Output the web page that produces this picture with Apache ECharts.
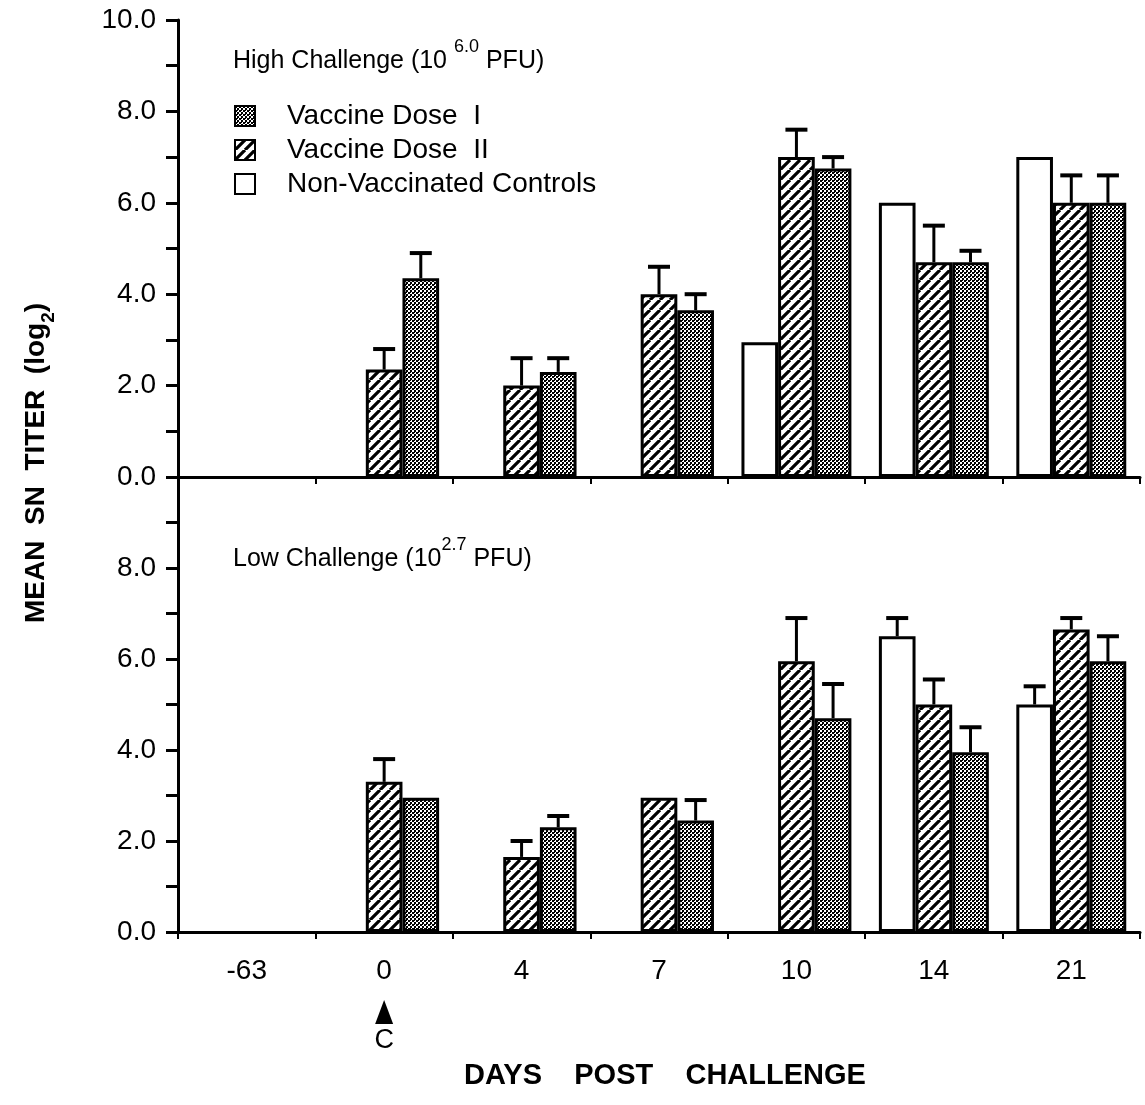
<!DOCTYPE html>
<html>
<head>
<meta charset="utf-8">
<script src="https://cdn.jsdelivr.net/npm/echarts@6/dist/echarts.min.js"></script>
<style>
  html,body{margin:0;padding:0;background:#fff;}
  #chart{width:1145px;height:1105px;}
</style>
</head>
<body>
<div id="chart"></div>
<script>
var FONT = "'Liberation Sans', Arial, Helvetica, sans-serif";

// categories
var days = ['-63', '0', '4', '7', '10', '14', '21'];
var seriesNames = ['Non-Vaccinated Controls', 'Vaccine Dose  II', 'Vaccine Dose  I'];

// high challenge (top panel)
var highCtrl = [null, null, null, null, 2.95, 6.0, 7.0];
var highDose2 = [null, 2.35, 2.0, 4.0, 7.0, 4.7, 6.0];
var highDose1 = [null, 4.35, 2.3, 3.65, 6.75, 4.7, 6.0];
var highCtrlErr = [null, null, null, null, null, null, null];
var highDose2Err = [null, 2.8, 2.6, 4.6, 7.6, 5.5, 6.6];
var highDose1Err = [null, 4.9, 2.6, 4.0, 7.0, 4.95, 6.6];

// low challenge (bottom panel)
var lowCtrl = [null, null, null, null, null, 6.5, 5.0];
var lowDose2 = [null, 3.3, 1.65, 2.95, 5.95, 5.0, 6.65];
var lowDose1 = [null, 2.95, 2.3, 2.45, 4.7, 3.95, 5.95];
var lowCtrlErr = [null, null, null, null, null, 6.9, 5.4];
var lowDose2Err = [null, 3.8, 2.0, null, 6.9, 5.55, 6.9];
var lowDose1Err = [null, null, 2.55, 2.9, 5.45, 4.5, 6.5];

// y ticks
var yMin = 0, yMax = 10, yStep = 1;

// fill patterns
function hatch(){
    var c = document.createElement('canvas');
    c.width = 10; c.height = 10;
    var ctx = c.getContext('2d');
    ctx.fillStyle = '#fff';
    ctx.fillRect(0, 0, 10, 10);
    ctx.strokeStyle = '#000';
    ctx.lineWidth = 3.2;
    ctx.beginPath();
    for (var k = -10; k <= 10; k += 10) {
        ctx.moveTo(k, 10);
        ctx.lineTo(k + 10, 0);
    }
    ctx.stroke();
    return c;
}
function dots(){
    var c = document.createElement('canvas');
    c.width = 4; c.height = 4;
    var ctx = c.getContext('2d');
    ctx.fillStyle = '#fff';
    ctx.fillRect(0, 0, 4, 4);
    ctx.fillStyle = '#000';
    ctx.fillRect(0, 0, 2, 2);
    ctx.fillRect(2, 2, 2, 2);
    ctx.fillRect(2, 0, 1, 1);
    return c;
}
var fills = ['#fff', {image: hatch(), repeat: 'repeat'}, {image: dots(), repeat: 'repeat'}];

function barSeries(k, vals, gi){
    return {
        name: seriesNames[k],
        type: 'bar',
        xAxisIndex: gi,
        yAxisIndex: gi,
        data: vals,
        barGap: '0%',
        barCategoryGap: '20%',
        itemStyle: {color: fills[k], borderColor: '#000', borderWidth: 3},
        emphasis: {disabled: true},
        z: 2
    };
}

function errSeries(k, vals, errs, gi){
    var d = [];
    for (var i = 0; i < errs.length; i++) {
        if (errs[i] != null && vals[i] != null) d.push([i, vals[i], errs[i]]);
    }
    return {
        type: 'custom',
        xAxisIndex: gi,
        yAxisIndex: gi,
        data: d,
        encode: {x: 0, y: [1, 2]},
        silent: true,
        z: 3,
        renderItem: function(params, api){
            var i = api.value(0);
            var bw = api.size([1, 0])[0] * 0.8 / 3;
            var p0 = api.coord([i, api.value(1)]);
            var p1 = api.coord([i, api.value(2)]);
            var x = p0[0] + (k - 1) * bw;
            return {type: 'group', children: [
                {type: 'line', shape: {x1: x, y1: p0[1], x2: x, y2: p1[1]}, style: {stroke: '#000', lineWidth: 3}},
                {type: 'line', shape: {x1: x - 11, y1: p1[1], x2: x + 11, y2: p1[1]}, style: {stroke: '#000', lineWidth: 4}}
            ]};
        }
    };
}

function xAx(gi, showLabel){
    return {
        type: 'category',
        gridIndex: gi,
        data: days,
        axisLine: {lineStyle: {color: '#000', width: 3}},
        axisTick: {show: true, length: 7, lineStyle: {color: '#000', width: 2}},
        axisLabel: {show: showLabel, color: '#000', fontFamily: FONT, fontSize: 28, margin: 25}
    };
}
function yAx(gi, hideTop){
    return {
        type: 'value',
        gridIndex: gi,
        min: yMin,
        max: yMax,
        interval: yStep,
        axisLine: {show: true, lineStyle: {color: '#000', width: 3}},
        axisTick: {show: true, length: 12, lineStyle: {color: '#000', width: 3}},
        splitLine: {show: false},
        axisLabel: {
            color: '#000', fontFamily: FONT, fontSize: 28, margin: 22,
            formatter: function(v){
                if (v % 2 !== 0) return '';
                if (hideTop && v === yMax) return '';
                return v.toFixed(1);
            }
        }
    };
}

var myChart = echarts.init(document.getElementById('chart'));

var option = {
    backgroundColor: '#fff',
    animation: false,
    grid: [
        {left: 178, right: 5, top: 20, height: 457},
        {left: 178, right: 5, top: 477, height: 455}
    ],
    xAxis: [xAx(0, false), xAx(1, true)],
    yAxis: [yAx(0, false), yAx(1, true)],
    legend: {
        data: [seriesNames[2], seriesNames[1], seriesNames[0]],
        orient: 'vertical',
        left: 229,
        top: 97,
        icon: 'rect',
        itemWidth: 20,
        itemHeight: 20,
        itemGap: 6,
        selectedMode: false,
        textStyle: {color: '#000', fontFamily: FONT, fontSize: 28, padding: [0, 0, 0, 27]}
    },
    series: [
        barSeries(0, highCtrl, 0),
        barSeries(1, highDose2, 0),
        barSeries(2, highDose1, 0),
        barSeries(0, lowCtrl, 1),
        barSeries(1, lowDose2, 1),
        barSeries(2, lowDose1, 1),
        errSeries(0, highCtrl, highCtrlErr, 0),
        errSeries(1, highDose2, highDose2Err, 0),
        errSeries(2, highDose1, highDose1Err, 0),
        errSeries(0, lowCtrl, lowCtrlErr, 1),
        errSeries(1, lowDose2, lowDose2Err, 1),
        errSeries(2, lowDose1, lowDose1Err, 1)
    ]
};
myChart.setOption(option);

// annotations: titles, challenge marker
var cx = myChart.convertToPixel({xAxisIndex: 1}, '0');
var titleRich = {
    n: {fontFamily: FONT, fontSize: 25, color: '#000', lineHeight: 36, verticalAlign: 'bottom'},
    s: {fontFamily: FONT, fontSize: 18, color: '#000', lineHeight: 36, verticalAlign: 'top'}
};
myChart.setOption({
    graphic: [
        {type: 'text', left: 233, top: 38, style: {text: '{n|High Challenge (10 }{s|6.0}{n| PFU)}', rich: titleRich}},
        {type: 'text', left: 233, top: 536, style: {text: '{n|Low Challenge (10}{s|2.7}{n| PFU)}', rich: titleRich}},
        {
            type: 'text', x: 40, y: 463, rotation: Math.PI / 2,
            style: {
                text: '{b|MEAN  SN  TITER  (log}{sub|2}{b|)}',
                align: 'center', verticalAlign: 'middle',
                rich: {
                    b: {fontFamily: FONT, fontSize: 28, fontWeight: 'bold', color: '#000', lineHeight: 36, verticalAlign: 'top'},
                    sub: {fontFamily: FONT, fontSize: 19, fontWeight: 'bold', color: '#000', lineHeight: 36, verticalAlign: 'bottom'}
                }
            }
        },
        {
            type: 'text', x: 665, y: 1076,
            style: {text: 'DAYS    POST    CHALLENGE', fontFamily: FONT, fontSize: 29, fontWeight: 'bold', fill: '#000', align: 'center', verticalAlign: 'middle'}
        },
        {type: 'polygon', shape: {points: [[cx, 1000], [cx - 9, 1024], [cx + 9, 1024]]}, style: {fill: '#000'}},
        {type: 'text', x: cx, y: 1041, style: {text: 'C', fontFamily: FONT, fontSize: 27, fill: '#000', align: 'center', verticalAlign: 'middle'}}
    ]
});
</script>
</body>
</html>
